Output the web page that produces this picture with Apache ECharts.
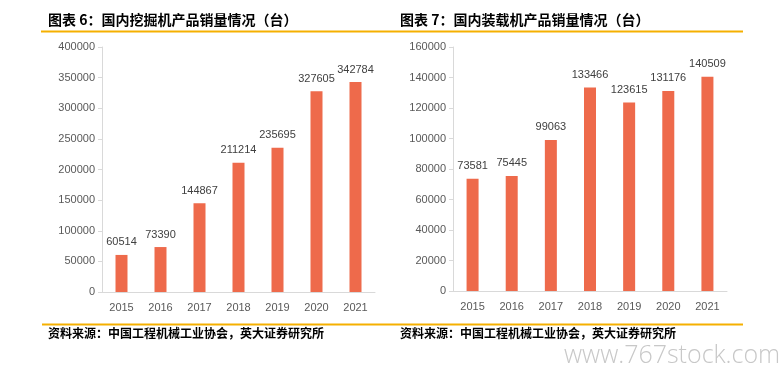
<!DOCTYPE html>
<html><head><meta charset="utf-8">
<script src="https://cdn.jsdelivr.net/npm/echarts@6/dist/echarts.min.js"></script>
<style>html,body{margin:0;padding:0;background:#fff}#c{width:784px;height:373px}</style>
</head><body><div id="c"></div>
<script>
var years = ['2015','2016','2017','2018','2019','2020','2021'];
var excavatorSales = [60514, 73390, 144867, 211214, 235695, 327605, 342784];
var loaderSales = [73581, 75445, 99063, 133466, 123615, 131176, 140509];
var title1 = '图表 6：国内挖掘机产品销量情况（台）';
var title2 = '图表 7：国内装载机产品销量情况（台）';
var sourceText = '资料来源：中国工程机械工业协会，英大证券研究所';

var chart = echarts.init(document.getElementById('c'));
var barColor = '#EE6A4B';
var axisLabelStyle = {color:'#595959', fontSize:11, fontFamily:'Liberation Sans'};
function yAxis(gi, max, interval){
  return {type:'value', gridIndex:gi, min:0, max:max, interval:interval,
    splitLine:{show:false},
    axisLine:{show:true, lineStyle:{color:'#D9D9D9'}},
    axisTick:{show:true, length:4, lineStyle:{color:'#D9D9D9'}},
    axisLabel:Object.assign({margin:7, formatter:function(v){return String(v);}}, axisLabelStyle)};
}
function xAxis(gi){
  return {type:'category', gridIndex:gi, data:years,
    axisLine:{lineStyle:{color:'#D9D9D9'}},
    axisTick:{show:false},
    axisLabel:Object.assign({margin:10}, axisLabelStyle)};
}
function series(gi, data){
  return {type:'bar', xAxisIndex:gi, yAxisIndex:gi, data:data, barWidth:12,
    itemStyle:{color:barColor},
    label:{show:true, position:'top', distance:7, color:'#404040', fontSize:11, fontFamily:'Liberation Sans'}};
}
chart.setOption({
  animation:false,
  grid:[{left:102, right:409, top:47, bottom:81},
        {left:453, right:57, top:47, bottom:82}],
  xAxis:[xAxis(0), xAxis(1)],
  yAxis:[yAxis(0, 400000, 50000), yAxis(1, 160000, 20000)],
  series:[series(0, excavatorSales), series(1, loaderSales)],
  graphic:[
    {type:'text', left:48, top:13, style:{text:title1, font:'bold 14px "Noto Sans CJK SC"', fill:'#000'}},
    {type:'text', left:400, top:13, style:{text:title2, font:'bold 14px "Noto Sans CJK SC"', fill:'#000'}},
    {type:'line', shape:{x1:41, y1:31.5, x2:743, y2:31.5}, style:{stroke:'#F5B000', lineWidth:2}},
    {type:'line', shape:{x1:42, y1:324.5, x2:743, y2:324.5}, style:{stroke:'#F5B000', lineWidth:2}},
    {type:'text', left:48, top:327, style:{text:sourceText, font:'bold 12px "Noto Sans CJK SC"', fill:'#000'}},
    {type:'text', left:400, top:327, style:{text:sourceText, font:'bold 12px "Noto Sans CJK SC"', fill:'#000'}},
    {type:'text', left:564, top:343, style:{text:'www.767stock.com', font:'300 25px "Open Sans"', fill:'#C8C8C8'}}
  ]
});
</script></body></html>
